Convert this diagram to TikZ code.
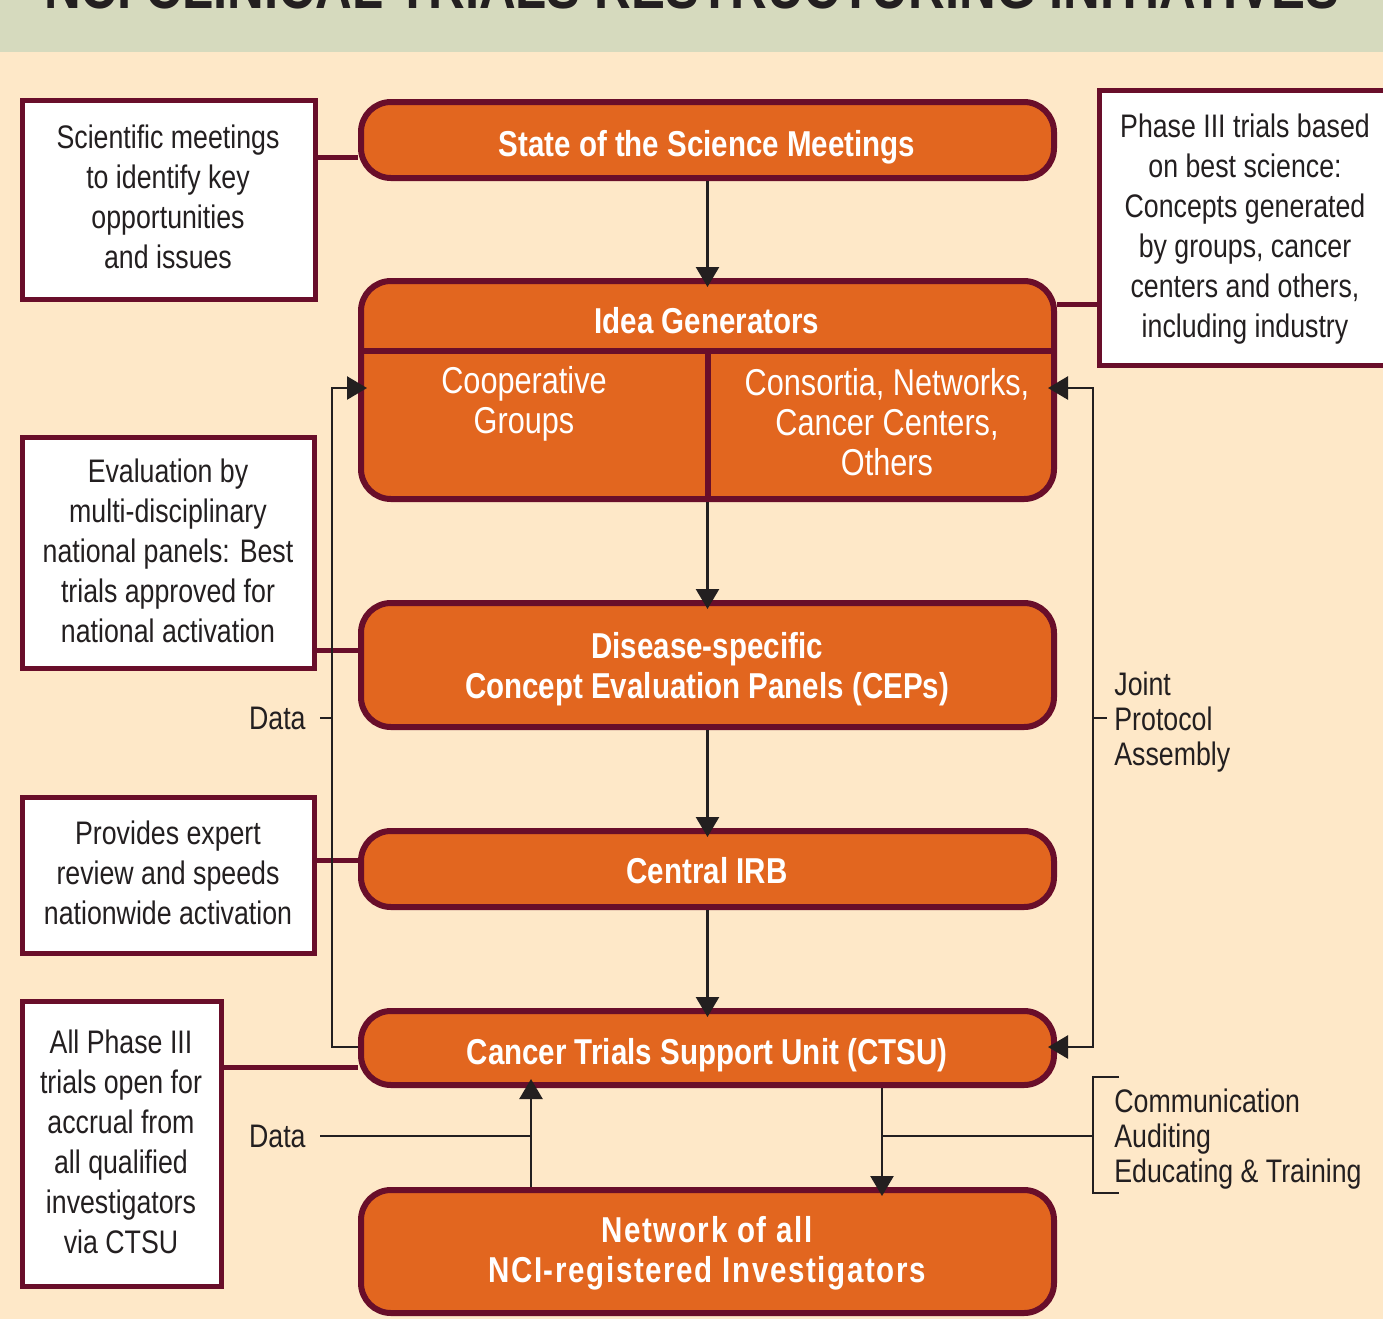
\documentclass[tikz,border=0pt]{standalone}
\usepackage{fontspec}
\setmainfont[FakeStretch=0.82]{Liberation Sans}
\usetikzlibrary{arrows.meta,fit}
\definecolor{orng}{HTML}{E2661F}
\definecolor{mar}{HTML}{690E2A}
\definecolor{cream}{HTML}{FEE8C8}
\definecolor{band}{HTML}{D6DABE}
\definecolor{ink}{HTML}{231F20}
\pgfdeclarelayer{bg}
\pgfsetlayers{bg,main}
\tikzset{
  obox/.style={draw=mar, line width=3pt, fill=orng, rounded corners=15pt, inner sep=0pt},
  wbox/.style={draw=mar, line width=2.5pt, fill=white, inner sep=0pt},
  otext/.style={text=white, align=center, inner sep=0pt, font=\fontsize{18}{20}\selectfont\bfseries},
  olight/.style={text=white, align=center, inner sep=0pt, font=\fontsize{18.7}{20}\selectfont},
  wtext/.style={text=ink, align=center, inner sep=0pt, font=\fontsize{16.3}{20}\selectfont},
  lbl/.style={text=ink, inner sep=0pt, font=\fontsize{16.3}{17.5}\selectfont, align=left},
  conn/.style={draw=ink, line width=1.25pt},
  tip/.tip={Triangle[length=10pt,width=11.5pt]},
  arr/.style={conn, -tip, shorten >=-4.5pt},
  mlink/.style={draw=mar, line width=2.5pt},
}
\begin{document}
\begin{tikzpicture}[x=0.5pt,y=-0.5pt]
\useasboundingbox (0,0) rectangle (1383,1319);

% title (cut off at top, as in the reference)
\node[anchor=base, inner sep=0pt, text=ink, font=\fontsize{31}{31}\selectfont\bfseries] (title) at (692,8) {NCI CLINICAL TRIALS RESTRUCTURING INITIATIVES};

% orange boxes
\node[obox, fit={(361,102) (1054,178)}] (ssm) {};
\node[obox, fit={(361,281) (1054,499)}] (idea) {};
\node[obox, fit={(361,603) (1054,727)}] (cep) {};
\node[obox, fit={(361,831) (1054,907)}] (irb) {};
\node[obox, fit={(361,1011) (1054,1085)}] (ctsu) {};
\node[obox, fit={(361,1190) (1054,1313)}] (net) {};

\node[otext] (ssmt) at (707,147) {State of the Science Meetings};
\node[otext] (cept) at (707,669) {Disease-specific\\Concept Evaluation Panels (CEPs)};
\node[otext] (irbt) at (707,871) {Central IRB};
\node[otext] (ctsut) at (707,1055) {Cancer Trials Support Unit (CTSU)};
\node[otext, font=\fontsize{18}{20}\selectfont\bfseries\addfontfeature{LetterSpace=4.5}] (nett) at (707,1253) {Network of all\\NCI-registered Investigators};

% idea generators inner structure
\draw[mar, line width=3pt] (idea.west |- 0,351) coordinate (dl) -- (idea.east |- dl);
\draw[mar, line width=3pt] (idea.south) -- (idea.south |- dl);
\node[otext] (ideat) at (707,321) {Idea Generators};
\node[olight] (coop) at (524,404) {Cooperative\\Groups};
\node[olight] (cons) at (887,422) {Consortia, Networks,\\Cancer Centers,\\Others};

% white boxes
\node[wbox, fit={(22,100) (315,299)}] (sci) {};
\node[wbox, fit={(1099.5,90.5) (1391,365.5)}] (phase) {};
\node[wbox, fit={(22,437) (314,668)}] (eval) {};
\node[wbox, fit={(22,797) (314,953)}] (prov) {};
\node[wbox, fit={(22,1001) (221,1286)}] (allp) {};

\node[wtext] (scit) at (168,197) {Scientific meetings\\to identify key\\opportunities\\and issues};
\node[wtext] (phaset) at (1245,229.5) {Phase III trials based\\on best science:\\Concepts generated\\by groups, cancer\\centers and others,\\including industry};
\node[wtext] (evalt) at (168,551) {Evaluation by\\multi-disciplinary\\national panels: Best\\trials approved for\\national activation};
\node[wtext] (provt) at (168,873) {Provides expert\\review and speeds\\nationwide activation};
\node[wtext] (allpt) at (121,1142) {All Phase III\\trials open for\\accrual from\\all qualified\\investigators\\via CTSU};

% background and maroon links
\begin{pgfonlayer}{bg}
\fill[cream] (0,0) rectangle (1383,1319);
\fill[band] (0,0) rectangle (1383,52);
\coordinate (m1) at (0,157);
\coordinate (m2) at (0,304);
\coordinate (m3) at (0,650);
\coordinate (m4) at (0,860);
\coordinate (m5) at (0,1067);
\draw[mlink] (sci.east |- m1) -- (ssm.west |- m1);
\draw[mlink] (idea.east |- m2) -- (phase.west |- m2);
\draw[mlink] (eval.east |- m3) -- (cep.west |- m3);
\draw[mlink] (prov.east |- m4) -- (irb.west |- m4);
\draw[mlink] (allp.east |- m5) -- (ctsu.west |- m5);
\end{pgfonlayer}

% main vertical arrows
\draw[arr] (ssm.south) -- (idea.north);
\draw[arr] (idea.south) -- (cep.north);
\draw[arr] (cep.south) -- (irb.north);
\draw[arr] (irb.south) -- (ctsu.north);

% left data loop
\coordinate (lA) at (332,1047);
\coordinate (lB) at (332,388);
\draw[arr] (ctsu.west |- lA) -- (lA) -- (lB) -- (idea.west |- lB);
\node[lbl, anchor=east] (data1) at (306,718) {Data};
\draw[conn] ([xshift=7pt]data1.east) -- (lA |- data1.east);

% right joint protocol loop
\coordinate (rA) at (1093,388);
\coordinate (rB) at (1093,1047);
\draw[conn, tip-tip, shorten <=-4.5pt, shorten >=-4.5pt] (idea.east |- rA) -- (rA) -- (rB) -- (ctsu.east |- rB);
\node[lbl, anchor=west] (jpa) at (1114,722) {Joint\\Protocol\\Assembly};
\coordinate (jt) at (1093,718);
\draw[conn] (jt) -- ++(14,0);

% bottom data arrow
\coordinate (upx) at (531,1136);
\draw[arr] (net.north -| upx) -- (ctsu.south -| upx);
\node[lbl, anchor=east] (data2) at (306,1136) {Data};
\draw[conn] ([xshift=7pt]data2.east) -- (upx);

% CTSU to network, with communication bracket
\coordinate (dnx) at (882,1136);
\draw[arr] (ctsu.south -| dnx) -- (net.north -| dnx);
\draw[conn] (dnx) -- (dnx -| rA);
\coordinate (bt) at (1093,1077);
\coordinate (bb) at (1093,1193);
\draw[conn] ([xshift=13pt]bt) -- (bt) -- (bb) -- ([xshift=13pt]bb);
\node[lbl, anchor=west] (comm) at (1114,1139.5) {Communication\\Auditing\\Educating \& Training};
\end{tikzpicture}
\end{document}
